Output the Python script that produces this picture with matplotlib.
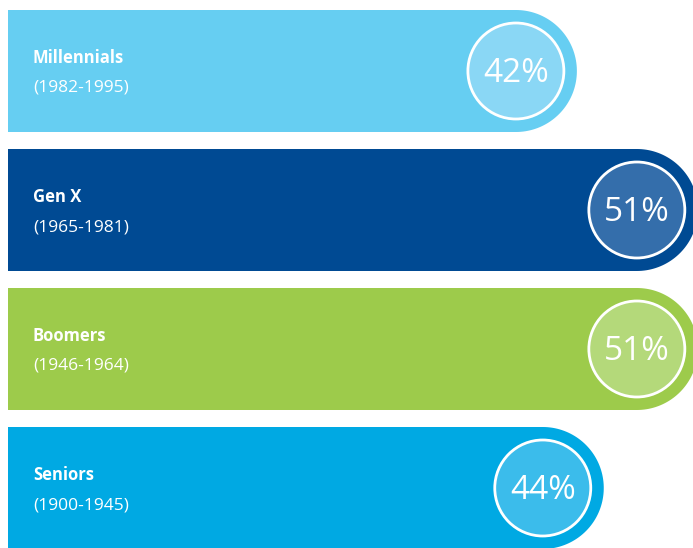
import numpy as np
import matplotlib.pyplot as plt
from matplotlib.patches import Polygon, Circle

# --- data ---
names = ["Millennials", "Gen X", "Boomers", "Seniors"]
years = ["(1982-1995)", "(1965-1981)", "(1946-1964)", "(1900-1945)"]
values = [42, 51, 51, 44]
bar_colors = ["#66CEF2", "#004A93", "#9DCB4B", "#00A9E3"]
dot_colors = ["#8AD7F5", "#346EAB", "#B4D97A", "#3BBCEB"]

plt.rcParams["font.family"] = ["Open Sans", "DejaVu Sans"]

W, H = 693, 548
PX = 13.44          # pixels per percentage point
OFF = 48.6          # pixel offset so that value -> pixel = PX*v - OFF

fig = plt.figure(figsize=(W / 100, H / 100), dpi=100)
ax = fig.add_axes([0, 0, 1, 1])
ax.set_xlim(OFF / PX, (W + OFF) / PX)
ax.set_ylim(H / PX, 0)
ax.axis("off")

def u(p):
    # pixel length -> data units (same scale on both axes)
    return p / PX

bar_left = u(8 + OFF)
half_h = u(61)
dot_r = u(48)
text_x = u(33 + OFF)

for i, (nm, yr, v, bc, dc) in enumerate(zip(names, years, values, bar_colors, dot_colors)):
    cy = u(71 + 139 * i)
    # bar with rounded right end, cap centred on the value
    t = np.linspace(-np.pi / 2, np.pi / 2, 80)
    arc = np.column_stack([v + half_h * np.cos(t), cy + half_h * np.sin(t)])
    pts = np.vstack([[bar_left, cy - half_h], arc, [bar_left, cy + half_h]])
    ax.add_patch(Polygon(pts, closed=True, facecolor=bc, edgecolor="none"))
    ax.add_patch(Circle((v, cy), dot_r, facecolor=dc, edgecolor="white", lw=2))
    ax.text(v, cy + u(11), f"{v}%", color="white", fontsize=24,
            ha="center", va="baseline")
    ax.text(text_x, cy - u(8), nm, color="white", fontsize=12,
            fontweight="bold", ha="left", va="baseline")
    ax.text(text_x, cy + u(21), yr, color="white", fontsize=12.5,
            ha="left", va="baseline")

fig.savefig("out.png", dpi=100)
